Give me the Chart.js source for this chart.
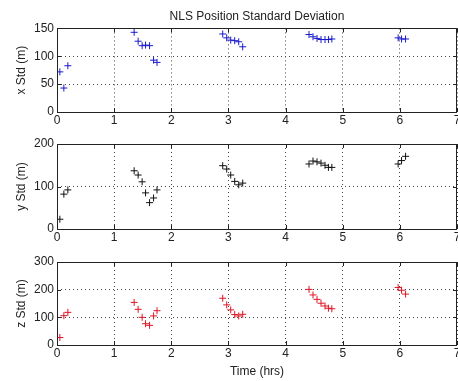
<!DOCTYPE html>
<html>
<head>
<meta charset="utf-8">
<script src="https://cdn.jsdelivr.net/npm/chart.js@4.4.0/dist/chart.umd.min.js"></script>
<style>
  html, body { margin: 0; padding: 0; background: #fff; }
  #wrap { position: relative; width: 458px; height: 381px; overflow: hidden; }
  canvas { position: absolute; left: 0; }
</style>
</head>
<body>
<div id="wrap">
  <canvas id="panelX" width="480" height="135" style="top:0px"></canvas>
  <canvas id="panelY" width="480" height="117" style="top:135px"></canvas>
  <canvas id="panelZ" width="480" height="129" style="top:252px"></canvas>
</div>
<script>
// time of each fix (hrs), shared by the three panels
const timeHrs = [0.05, 0.12, 0.19,
    1.35, 1.42, 1.49, 1.55, 1.62, 1.69, 1.75,
    2.90, 2.97, 3.04, 3.11, 3.18, 3.25,
    4.41, 4.48, 4.55, 4.62, 4.69, 4.75, 4.81,
    5.97, 6.03, 6.10];

const xStd = [72, 43, 83,
    143, 127, 119, 120, 119, 93, 89,
    140, 133, 129, 128, 126, 117,
    139, 135, 132, 130, 130, 130, 131,
    133, 131, 131];

const yStd = [23, 82, 92,
    137, 127, 111, 85, 62, 73, 92,
    149, 141, 127, 112, 104, 108,
    153, 160, 158, 155, 150, 145, 145,
    153, 161, 171];

const zStd = [27, 106, 118,
    154, 129, 100, 77, 71, 105, 124,
    169, 145, 127, 110, 105, 111,
    201, 181, 165, 151, 141, 133, 131,
    208, 198, 184];

const timeTicks = [0, 7, 1];      // min, max, step
const xStdTicks = [0, 150, 50];
const yStdTicks = [0, 200, 100];
const zStdTicks = [0, 300, 100];

const FONT = "'Liberation Sans', Arial, Helvetica, sans-serif";

// MATLAB style box round the axes, with small ticks pointing inwards
const boxFrame = {
    id: 'boxFrame',
    afterDraw(chart) {
        const { ctx, chartArea: a, scales } = chart;
        ctx.save();
        ctx.strokeStyle = '#222';
        ctx.lineWidth = 1;
        ctx.beginPath();
        scales.x.ticks.forEach(t => {
            const px = Math.round(scales.x.getPixelForValue(t.value)) + 0.5;
            ctx.moveTo(px, a.bottom); ctx.lineTo(px, a.bottom - 4);
            ctx.moveTo(px, a.top); ctx.lineTo(px, a.top + 4);
        });
        scales.y.ticks.forEach(t => {
            const py = Math.round(scales.y.getPixelForValue(t.value)) + 0.5;
            ctx.moveTo(a.left, py); ctx.lineTo(a.left + 4, py);
            ctx.moveTo(a.right, py); ctx.lineTo(a.right - 4, py);
        });
        ctx.stroke();
        ctx.strokeRect(Math.round(a.left) + 0.5, Math.round(a.top) + 0.5,
            Math.round(a.right - a.left) - 1, Math.round(a.bottom - a.top));
        ctx.restore();
    }
};

function makePanel(id, values, color, yTicks, yLabel, cfg) {
    const ctx = document.getElementById(id).getContext('2d');
    return new Chart(ctx, {
        type: 'scatter',
        data: {
            datasets: [{
                data: timeHrs.map((t, i) => ({ x: t, y: values[i] })),
                pointStyle: 'cross',
                pointRadius: 3.5,
                pointBorderWidth: 1,
                borderColor: color,
                backgroundColor: color
            }]
        },
        options: {
            responsive: false,
            animation: false,
            // canvas is wider than the window, so the last tick label is cut off as in the original
            layout: { padding: { top: cfg.padTop, right: 23, left: 0, bottom: 0 } },
            scales: {
                x: {
                    type: 'linear',
                    min: timeTicks[0],
                    max: timeTicks[1],
                    ticks: {
                        stepSize: timeTicks[2],
                        padding: 1,
                        color: '#222',
                        font: { family: FONT, size: 12 }
                    },
                    grid: { color: '#444', lineWidth: 1, drawTicks: false },
                    border: { display: false, dash: [1, 3] },
                    title: {
                        display: !!cfg.xTitle,
                        text: cfg.xTitle || '',
                        color: '#222',
                        font: { family: FONT, size: 12 },
                        padding: { top: 0, bottom: 2 }
                    },
                    afterFit(scale) {
                        scale.height = cfg.xHeight;
                        scale.paddingLeft = 0;
                        scale.paddingRight = 0;
                    }
                },
                y: {
                    min: yTicks[0],
                    max: yTicks[1],
                    ticks: {
                        stepSize: yTicks[2],
                        padding: 3,
                        color: '#222',
                        font: { family: FONT, size: 12 }
                    },
                    grid: { color: '#444', lineWidth: 1, drawTicks: false },
                    border: { display: false, dash: [1, 3] },
                    title: {
                        display: true,
                        text: yLabel,
                        color: '#222',
                        font: { family: FONT, size: 12 },
                        padding: { top: 14, bottom: 0 }
                    },
                    afterFit(scale) {
                        scale.width = 57;
                        scale.paddingTop = 0;
                        scale.paddingBottom = 0;
                    }
                }
            },
            plugins: {
                legend: { display: false },
                tooltip: { enabled: false },
                title: {
                    display: !!cfg.title,
                    text: cfg.title || '',
                    fullSize: false,
                    color: '#222',
                    font: { family: FONT, size: 12, weight: 'normal' },
                    padding: { top: 9, bottom: 5 }
                }
            }
        },
        plugins: [boxFrame]
    });
}

makePanel('panelX', xStd, '#1a1acc', xStdTicks, 'x Std (m)',
    { padTop: 0, xHeight: 23, title: 'NLS Position Standard Deviation' });
makePanel('panelY', yStd, '#111111', yStdTicks, 'y Std (m)',
    { padTop: 9, xHeight: 23 });
makePanel('panelZ', zStd, '#e01525', zStdTicks, 'z Std (m)',
    { padTop: 10, xHeight: 36, xTitle: 'Time (hrs)' });
</script>
</body>
</html>
